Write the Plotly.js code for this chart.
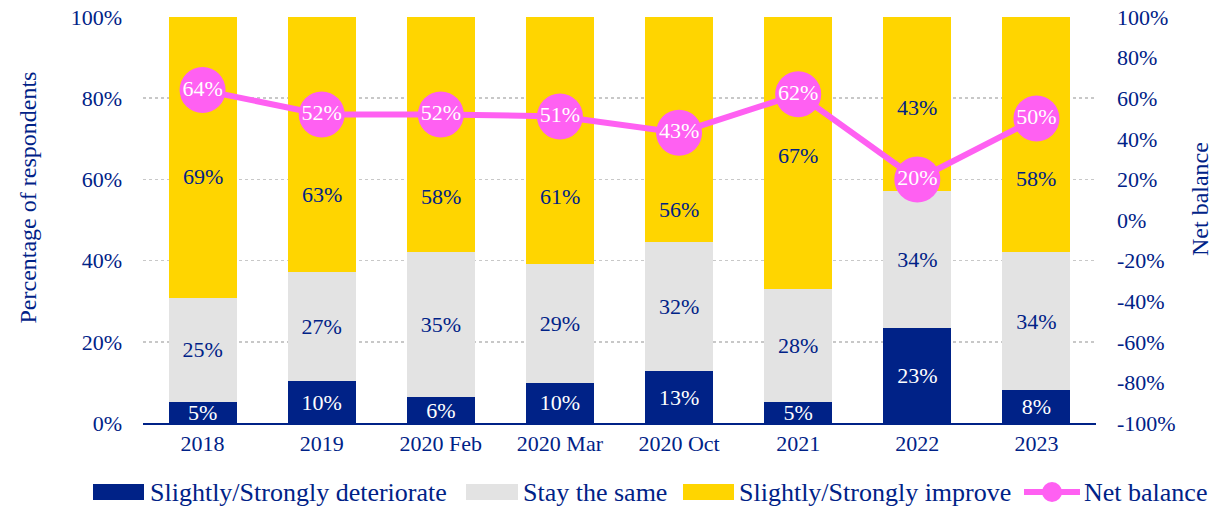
<!DOCTYPE html>
<html>
<head>
<meta charset="utf-8">
<script src="https://cdn.plot.ly/plotly-3.0.1.min.js"></script>
<style>html,body{margin:0;padding:0;background:#fff;}#chart{width:1213px;height:506px;}</style>
</head>
<body>
<div id="chart"></div>
<script>
const categories = ["2018", "2019", "2020 Feb", "2020 Mar", "2020 Oct", "2021", "2022", "2023"];
// bar heights (%)
const deteriorate = [5.2, 10.3, 6.3, 9.9, 12.8, 5.2, 23.4, 8.1];
const stayTheSame = [25.6, 27.0, 35.7, 29.2, 31.7, 27.7, 33.8, 33.9];
const improve = [69.2, 62.7, 58.0, 60.9, 55.5, 67.1, 42.8, 58.0];
// printed data labels
const deteriorateLabels = [5, 10, 6, 10, 13, 5, 23, 8];
const stayTheSameLabels = [25, 27, 35, 29, 32, 28, 34, 34];
const improveLabels = [69, 63, 58, 61, 56, 67, 43, 58];
const netBalance = [64, 52, 52, 51, 43, 62, 20, 50];
const leftTicks = [0, 20, 40, 60, 80, 100];
const rightTicks = [-100, -80, -60, -40, -20, 0, 20, 40, 60, 80, 100];
const seriesNames = ["Slightly/Strongly deteriorate", "Stay the same", "Slightly/Strongly improve", "Net balance"];
// label placement for the "improve" values (left-axis %), as in the reference
const improveLabelPos = [60.6, 56.2, 55.7, 55.7, 52.5, 65.8, 77.8, 60.3];

const NAVY = "#002287";
const GREY = "#E3E3E3";
const GOLD = "#FFD500";
const PINK = "#FF60F2";
const FONT = "Liberation Serif, Times New Roman, serif";
const FS = 22;

const pct = a => a.map(v => v + "%");

// plot area geometry (pixels) used for the hand-drawn legend
const L = 143, R = 117, T = 17, B = 83, W = 1213, H = 506;
const PW = W - L - R, PH = H - T - B;
const px = v => (v - L) / PW;
const py = v => (H - B - v) / PH;

const traces = [
  {
    type: "bar", name: seriesNames[0], x: categories, y: deteriorate,
    marker: {color: NAVY}, text: pct(deteriorateLabels), textposition: "inside",
    insidetextanchor: "middle", constraintext: "none", textangle: 0,
    textfont: {family: FONT, size: FS, color: "#ffffff"}, hoverinfo: "skip", showlegend: false
  },
  {
    type: "bar", name: seriesNames[1], x: categories, y: stayTheSame,
    marker: {color: GREY}, text: pct(stayTheSameLabels), textposition: "inside",
    insidetextanchor: "middle", constraintext: "none", textangle: 0,
    textfont: {family: FONT, size: FS, color: NAVY}, hoverinfo: "skip", showlegend: false
  },
  {
    type: "bar", name: seriesNames[2], x: categories, y: improve,
    marker: {color: GOLD}, hoverinfo: "skip", showlegend: false
  },
  {
    type: "scatter", mode: "lines+markers+text", name: seriesNames[3], x: categories, y: netBalance,
    yaxis: "y2", line: {color: PINK, width: 6},
    marker: {color: PINK, size: 46},
    text: pct(netBalance), textposition: "middle center",
    textfont: {family: FONT, size: FS, color: "#ffffff"}, hoverinfo: "skip", showlegend: false
  }
];

const annotations = categories.map((c, i) => ({
  x: i, y: improveLabelPos[i], xref: "x", yref: "y", text: improveLabels[i] + "%",
  showarrow: false, font: {family: FONT, size: FS, color: NAVY}
}));
annotations.push({
  text: "Percentage of respondents", textangle: -90, showarrow: false,
  xref: "paper", yref: "paper", x: px(27), y: py(197.5), xanchor: "center", yanchor: "middle",
  font: {family: FONT, size: 24, color: NAVY}
});
annotations.push({
  text: "Net balance", textangle: -90, showarrow: false,
  xref: "paper", yref: "paper", x: px(1200), y: py(199), xanchor: "center", yanchor: "middle",
  font: {family: FONT, size: 24, color: NAVY}
});

// custom legend (wide swatches like the reference)
const LY = 492;
const swatches = [
  {x0: 93, x1: 144, color: NAVY, tx: 148},
  {x0: 466, x1: 518, color: GREY, tx: 521},
  {x0: 683, x1: 734, color: GOLD, tx: 737}
];
const shapes = [];
swatches.forEach((s, i) => {
  shapes.push({type: "rect", xref: "paper", yref: "paper",
    x0: px(s.x0), x1: px(s.x1), y0: py(LY - 8), y1: py(LY + 8),
    fillcolor: s.color, line: {width: 0}});
  annotations.push({text: seriesNames[i], showarrow: false, xref: "paper", yref: "paper",
    x: px(s.tx), y: py(LY), xanchor: "left", yanchor: "middle",
    font: {family: FONT, size: 26, color: NAVY}});
});
shapes.push({type: "line", xref: "paper", yref: "paper",
  x0: px(1024), x1: px(1080), y0: py(LY), y1: py(LY), line: {color: PINK, width: 6}});
shapes.push({type: "circle", xref: "paper", yref: "paper",
  x0: px(1042), x1: px(1062), y0: py(LY - 10), y1: py(LY + 10),
  fillcolor: PINK, line: {width: 0}});
annotations.push({text: seriesNames[3], showarrow: false, xref: "paper", yref: "paper",
  x: px(1082), y: py(LY), xanchor: "left", yanchor: "middle",
  font: {family: FONT, size: 26, color: NAVY}});

const layout = {
  width: W, height: H,
  margin: {l: L, r: R, t: T, b: B},
  paper_bgcolor: "#ffffff", plot_bgcolor: "#ffffff",
  barmode: "stack", bargap: 0.43,
  font: {family: FONT, size: FS, color: NAVY},
  showlegend: false,
  xaxis: {
    type: "category", range: [-0.5, 7.5], showgrid: false, zeroline: false,
    showline: true, linecolor: NAVY, linewidth: 2, ticks: "",
    tickfont: {family: FONT, size: FS, color: NAVY}, fixedrange: true
  },
  yaxis: {
    range: [0, 100], tickvals: leftTicks, ticktext: pct(leftTicks),
    showgrid: true, gridcolor: "#C8C8C8", gridwidth: 1.5, griddash: "dot",
    zeroline: false, showline: false, ticks: "", ticklabelstandoff: 20,
    tickfont: {family: FONT, size: FS, color: NAVY}, fixedrange: true
  },
  yaxis2: {
    overlaying: "y", side: "right", range: [-100, 100],
    tickvals: rightTicks, ticktext: pct(rightTicks),
    showgrid: false, zeroline: false, showline: false, ticks: "", ticklabelstandoff: 20,
    tickfont: {family: FONT, size: FS, color: NAVY}, fixedrange: true
  },
  shapes: shapes,
  annotations: annotations
};

Plotly.newPlot("chart", traces, layout, {displayModeBar: false, staticPlot: true});
</script>
</body>
</html>
